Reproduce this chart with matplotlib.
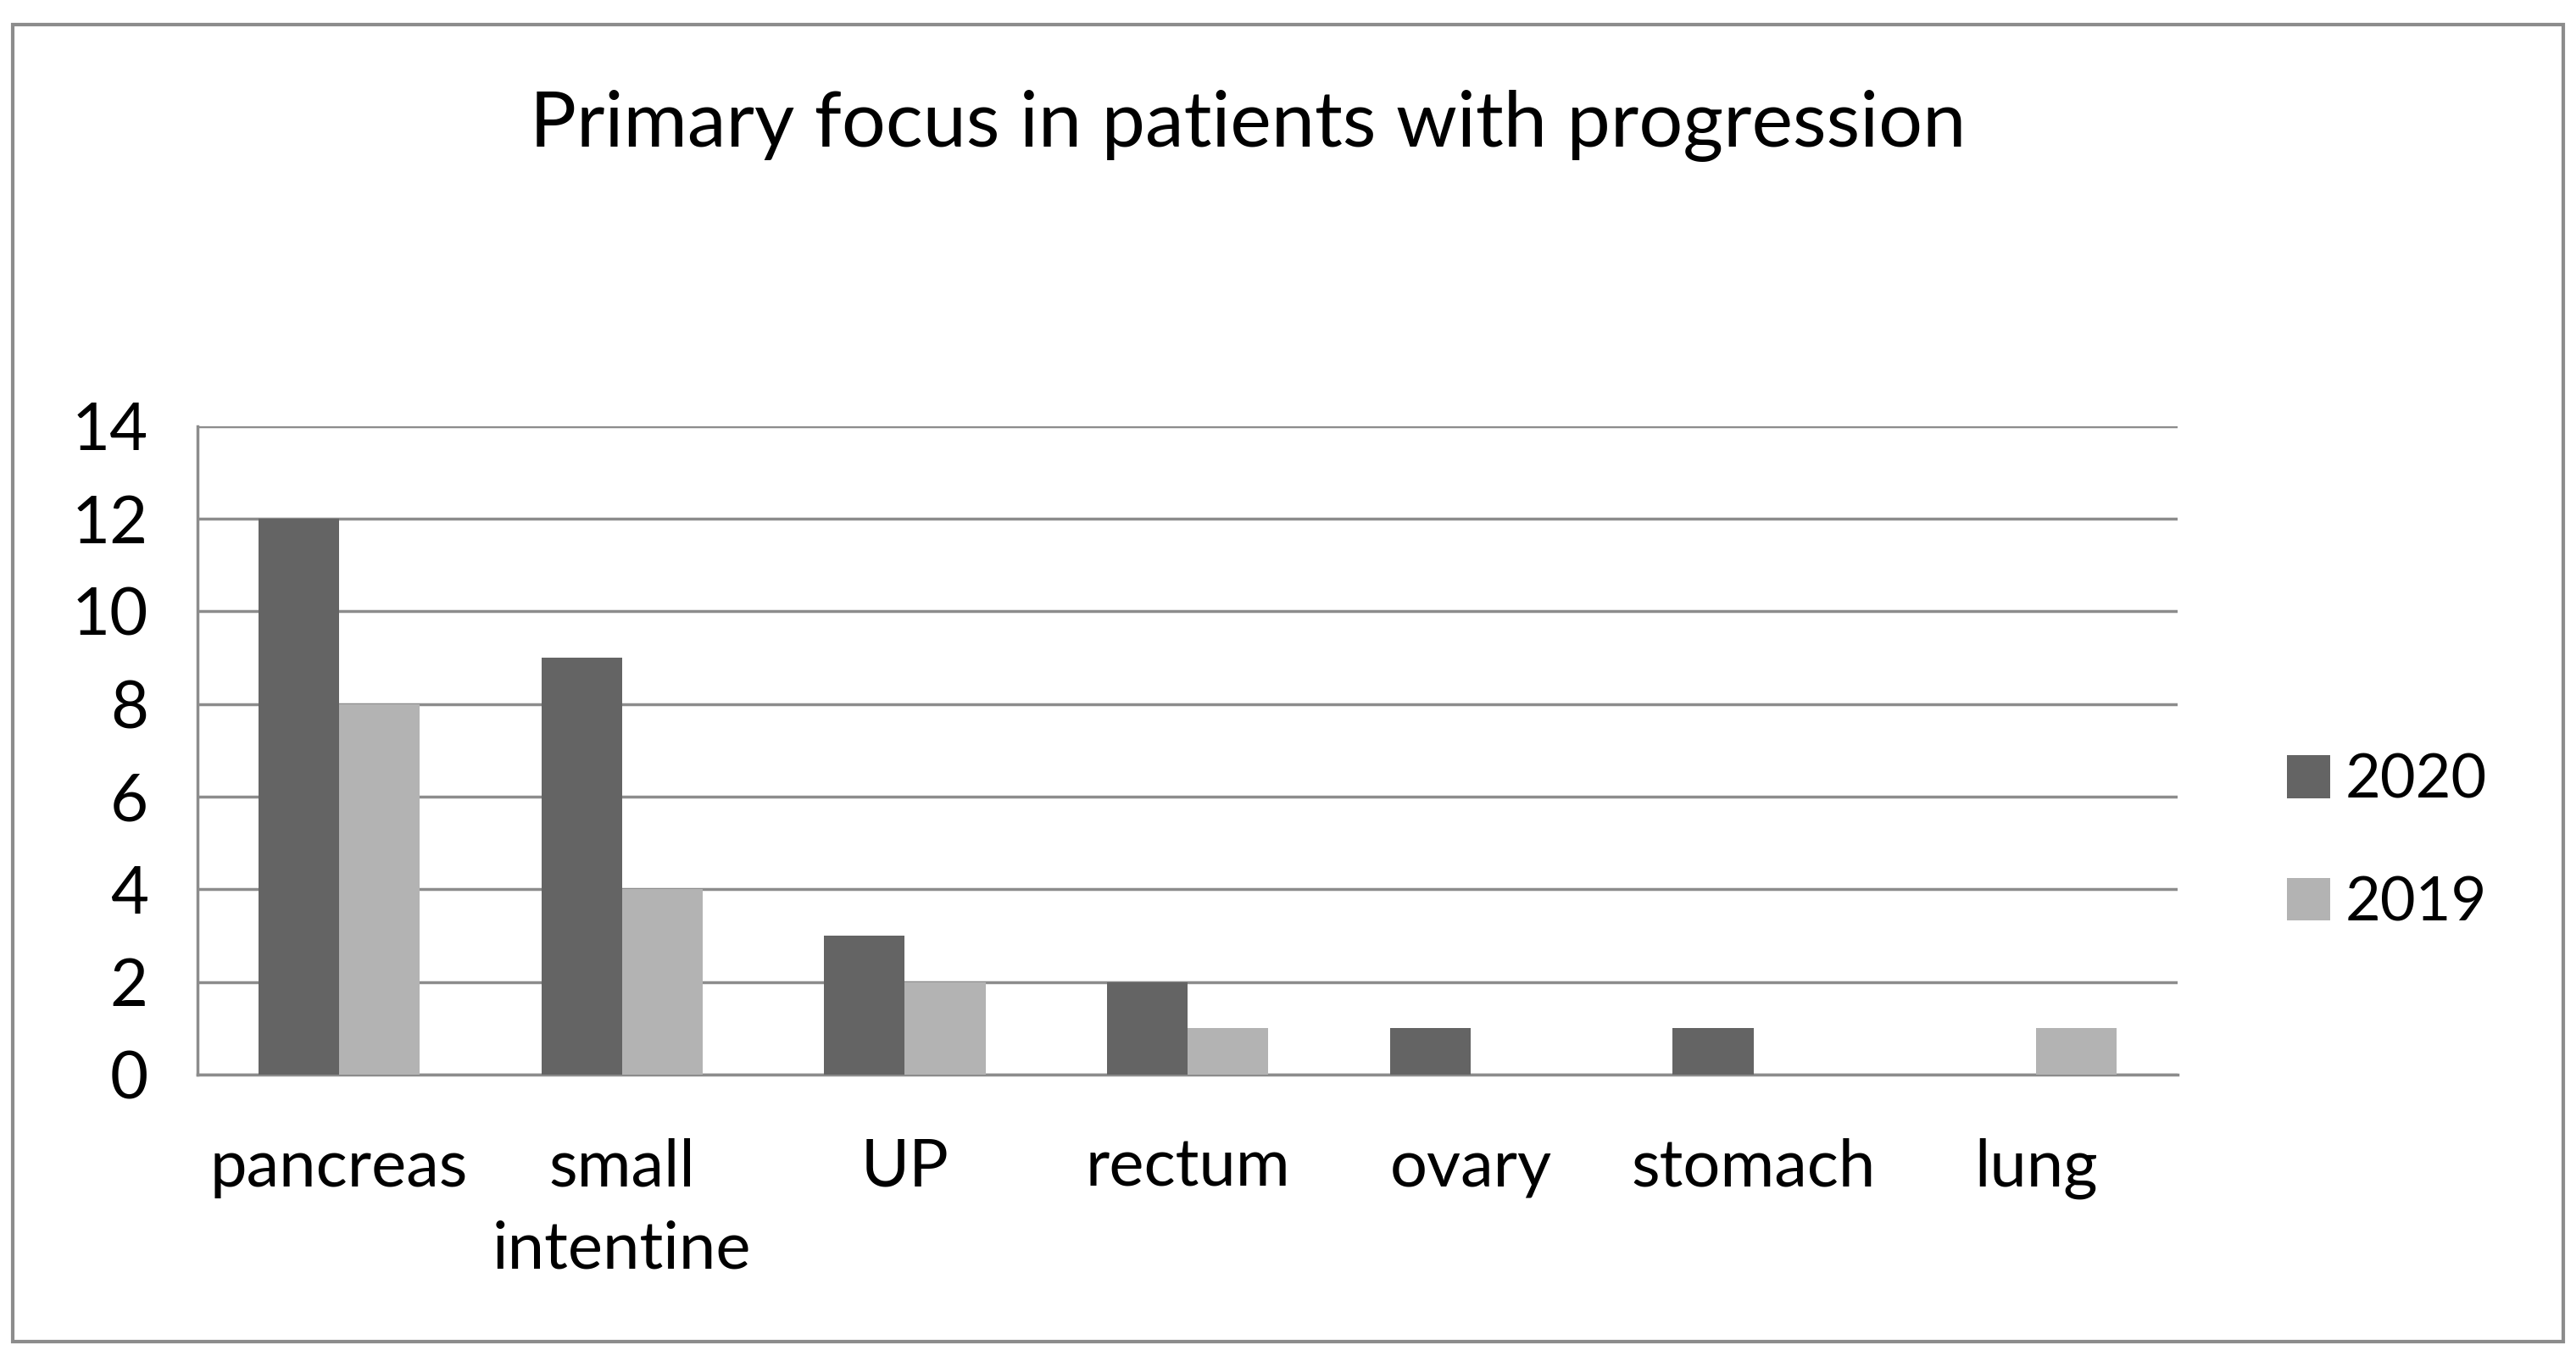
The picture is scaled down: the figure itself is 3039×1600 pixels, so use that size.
import matplotlib
matplotlib.use("Agg")
import matplotlib.pyplot as plt
from matplotlib.patches import Rectangle
import numpy as np

categories = ["pancreas", "small\nintentine", "UP", "rectum", "ovary", "stomach", "lung"]
series_names = ["2020", "2019"]
values_2020 = [12, 9, 3, 2, 1, 1, 0]
values_2019 = [8, 4, 2, 1, 0, 0, 1]
yticks = [0, 2, 4, 6, 8, 10, 12, 14]
title = "Primary focus in patients with progression"

c_dark = "#646464"
c_light = "#b3b3b3"
c_grid = "#8c8c8c"

plt.rcParams['font.family'] = ['Lato', 'DejaVu Sans']

fig = plt.figure(figsize=(30.39, 16), dpi=100)
fig.patch.set_facecolor("white")

# outer border
fig.patches.append(Rectangle((0.0051, 0.0109), 0.9898, 0.9709, transform=fig.transFigure,
                             fill=False, edgecolor=c_grid, linewidth=3, zorder=0))

ax = fig.add_axes([0.0767, 0.2075, 0.7687, 0.4782])
x = np.arange(len(categories))
w = 0.285
ax.bar(x - w / 2, values_2020, width=w, color=c_dark, label=series_names[0], zorder=3)
ax.bar(x + w / 2, values_2019, width=w, color=c_light, label=series_names[1], zorder=3)

ax.set_xlim(-0.5, len(categories) - 0.5)
ax.set_ylim(0, 14)
ax.set_yticks(yticks)
ax.set_yticklabels([str(t) for t in yticks])
ax.set_xticks(x)
ax.set_xticklabels(categories, linespacing=1.44)
ax.tick_params(axis='both', length=0, labelsize=56, colors="black")
ax.tick_params(axis='y', pad=42)
ax.tick_params(axis='x', pad=54)
ax.yaxis.grid(True, color=c_grid, linewidth=2.5, zorder=0)
ax.set_axisbelow(True)
for s in ["top", "right"]:
    ax.spines[s].set_visible(False)
for s in ["left", "bottom"]:
    ax.spines[s].set_color(c_grid)
    ax.spines[s].set_linewidth(2.5)

fig.text(0.4845, 0.907, title, ha="center", va="center", fontsize=66)

leg = ax.legend(loc="center left", bbox_to_anchor=(0.876, 0.379), bbox_transform=fig.transFigure,
                frameon=False, fontsize=52, handlelength=0.7, handleheight=0.7,
                handletextpad=0.24, labelspacing=1.1, borderpad=0)

fig.savefig("out.png", dpi=100, facecolor="white")
